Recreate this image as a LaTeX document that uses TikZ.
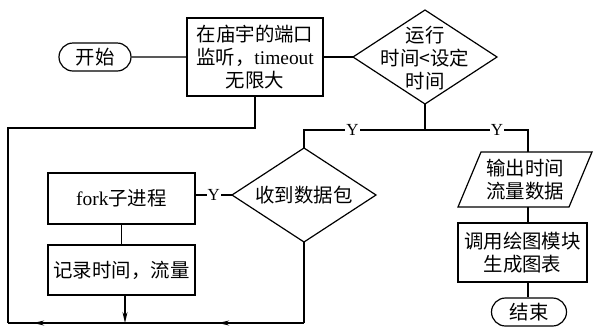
\documentclass[tikz,border=0pt]{standalone}
\usepackage{fontspec}
\setmainfont{Liberation Serif}
\newfontfamily\cjk{Noto Sans CJK SC}
\usetikzlibrary{shapes.geometric,shapes.misc,arrows.meta,decorations.markings,calc}
\begin{document}
\begin{tikzpicture}[x=1bp,y=-1bp,
  every node/.style={font=\fontsize{19.5}{23}\selectfont, inner sep=0pt, align=center},
  ln/.style={line width=1.2bp},
  boxn/.style={draw, line width=1.2bp, rectangle},
  term/.style={draw, line width=1.2bp, rounded rectangle, minimum width=72bp, minimum height=28bp},
  ylab/.style={fill=white, font=\fontsize{17}{18}\selectfont, inner xsep=1bp},
  tip/.style={-{Stealth[length=11bp,width=5bp]}}
]
\useasboundingbox (0,0) rectangle (594,327);
\node[term] (start) at (95,57) {\cjk 开始};
\node[boxn, minimum width=136bp, minimum height=78bp] (b1) at (255,57) {{\cjk 在庙宇的端口}\\{\cjk 监听，}timeout\\{\cjk 无限大}};

% decision 1
\node (d1) at (425,58) {{\cjk 运行}\\{\cjk 时间<设定}\\{\cjk 时间}};
\coordinate (d1n) at (425,10);
\coordinate (d1e) at (497,57);
\coordinate (d1s) at (425,104);
\coordinate (d1w) at (353,57);
\draw[ln] (d1n) -- (d1e) -- (d1s) -- (d1w) -- cycle;

% decision 2
\node (d2) at (304,195) {\cjk 收到数据包};
\coordinate (d2n) at (304,148);
\coordinate (d2e) at (376,195);
\coordinate (d2s) at (304,242);
\coordinate (d2w) at (232,195);
\draw[ln] (d2n) -- (d2e) -- (d2s) -- (d2w) -- cycle;

\node[boxn, minimum width=147bp, minimum height=51bp] (fork) at (121.5,198.5) {fork{\cjk 子进程}};
\node[boxn, minimum width=147bp, minimum height=50bp] (rec) at (121.5,270) {\cjk 记录时间，流量};
\node[minimum width=112bp, minimum height=55bp] (out) at (525,179.5) {{\cjk 输出时间}\\{\cjk 流量数据}};
\draw[ln] ($(out.center)+(-67,27.5)$) -- ($(out.center)+(-44,-27.5)$) -- ($(out.center)+(67,-27.5)$) -- ($(out.center)+(44,27.5)$) -- cycle;
\node[boxn, minimum width=129bp, minimum height=59bp] (draw) at (522.5,252.5) {{\cjk 调用绘图模块}\\{\cjk 生成图表}};
\node[term, minimum width=75bp] (end) at (529,312) {\cjk 结束};

\coordinate (split) at (425,130);
\coordinate (lft) at (304,130);
\coordinate (rgt) at (528,130);
\coordinate (bl) at (8,323);
\coordinate (br) at (304,323);
\coordinate (tl) at (8,128);
\coordinate (tr) at (255,128);
\coordinate (recb) at (125,323);

\draw[ln] (start) -- (b1);
\draw[ln] (b1.east |- d1w) -- (d1w);
\draw[ln] (d1s) -- (split);
\draw[ln] (split) -- node[ylab, pos=0.6]{Y} (lft) -- (d2n);
\draw[ln] (split) -- node[ylab, pos=0.7]{Y} (rgt) -- (rgt |- out.north);
\draw[ln] (d2w) -- node[ylab]{Y} (fork.east |- d2w);
\draw[ln] (fork) -- (rec);
\draw[ln, tip] (125,0 |- rec.south) -- (recb);
\draw[ln] (rgt |- out.south) -- (rgt |- draw.north);
\draw[ln] (rgt |- draw.south) -- (rgt |- end.north);
\draw[ln, postaction={decorate}, decoration={markings,
   mark=at position 0.29 with {\arrow{Stealth[length=11bp,width=5bp]}},
   mark=at position 0.915 with {\arrow{Stealth[length=11bp,width=5bp]}}}]
   (br) -- (bl);
\draw[ln] (d2s) -- (br);
\draw[ln] (bl) -- (tl) -- (tr) -- (tr |- b1.south);
\end{tikzpicture}
\end{document}
